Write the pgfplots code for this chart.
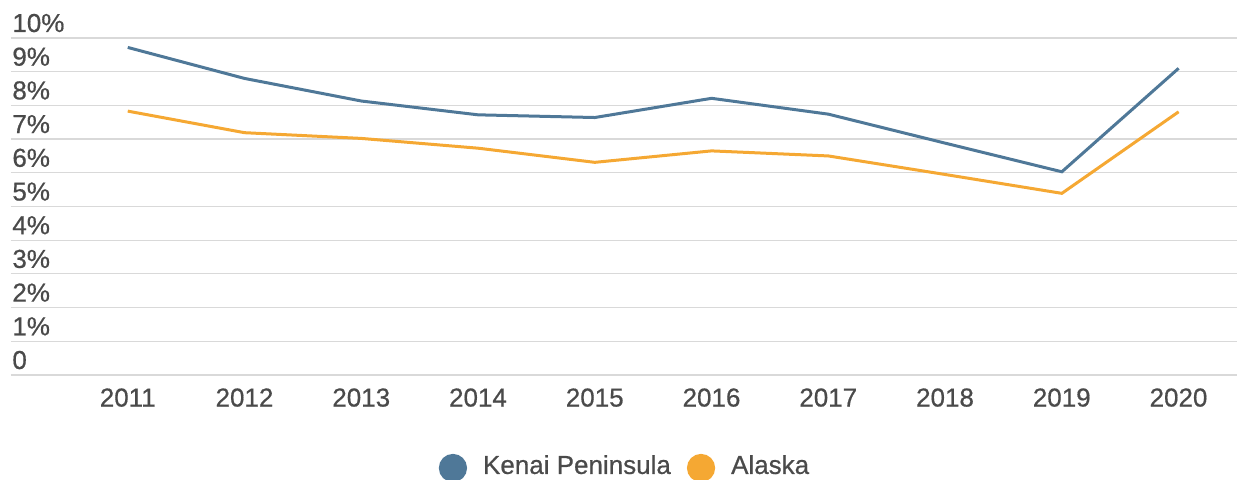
\documentclass[border=0pt]{standalone}
\usepackage{pgfplots}
\pgfplotsset{compat=1.18}
\usepackage{fontspec}
\setmainfont{Liberation Sans}
\newfontfamily\medfont[BoldFont=Liberation Sans, BoldFeatures={FakeBold=0.6}]{Liberation Sans}
\newcommand\lblfont{\fontsize{13pt}{15pt}\medfont\bfseries}
\definecolor{kenai}{HTML}{4F7898}
\definecolor{alaska}{HTML}{F5A833}
\definecolor{gridc}{HTML}{D9D9D9}
\definecolor{txt}{HTML}{4A4A4A}
\begin{document}
\begin{tikzpicture}
\useasboundingbox (-5.5pt,-52.5pt) rectangle (613pt,187.5pt);
\begin{axis}[
  scale only axis,
  width=613pt, height=168.5pt,
  xmin=2010, xmax=2020.5,
  ymin=0, ymax=10,
  axis line style={draw=none},
  tick style={draw=none},
  ymajorgrids,
  grid style={gridc, line width=0.6pt},
  ytick={0,1,...,10},
  yticklabels={0,1\%,2\%,3\%,4\%,5\%,6\%,7\%,8\%,9\%,10\%},
  yticklabel style={anchor=base west, inner sep=0pt, xshift=0.5pt, yshift=3pt, font=\lblfont, text=txt},
  xtick={2011,...,2020},
  xticklabels={2011,2012,2013,2014,2015,2016,2017,2018,2019,2020},
  xticklabel style={anchor=north, inner sep=0pt, yshift=-6.5pt, font=\lblfont, text=txt},
  clip=false,
  legend columns=2,
  legend style={at={(axis description cs:0.5,-0.276)}, anchor=center, draw=none, fill=none,
    font=\lblfont, text=txt,
    nodes={inner sep=0pt},
    column sep=8pt,
    /tikz/every even column/.append style={column sep=8pt}},
]
\addplot[kenai, line width=1.5pt,
  legend image code/.code={\fill[kenai] (6.3pt,-1pt) circle (6.3pt);}] coordinates {
(2011,9.72) (2012,8.80) (2013,8.13) (2014,7.72) (2015,7.64)
(2016,8.21) (2017,7.74) (2018,6.88) (2019,6.03) (2020,9.10)};
\addlegendentry{Kenai Peninsula}
\addplot[alaska, line width=1.5pt,
  legend image code/.code={\fill[alaska] (6.3pt,-1pt) circle (6.3pt);}] coordinates {
(2011,7.83) (2012,7.19) (2013,7.02) (2014,6.73) (2015,6.31)
(2016,6.65) (2017,6.50) (2018,5.95) (2019,5.39) (2020,7.81)};
\addlegendentry{Alaska}
\end{axis}
\end{tikzpicture}
\end{document}
